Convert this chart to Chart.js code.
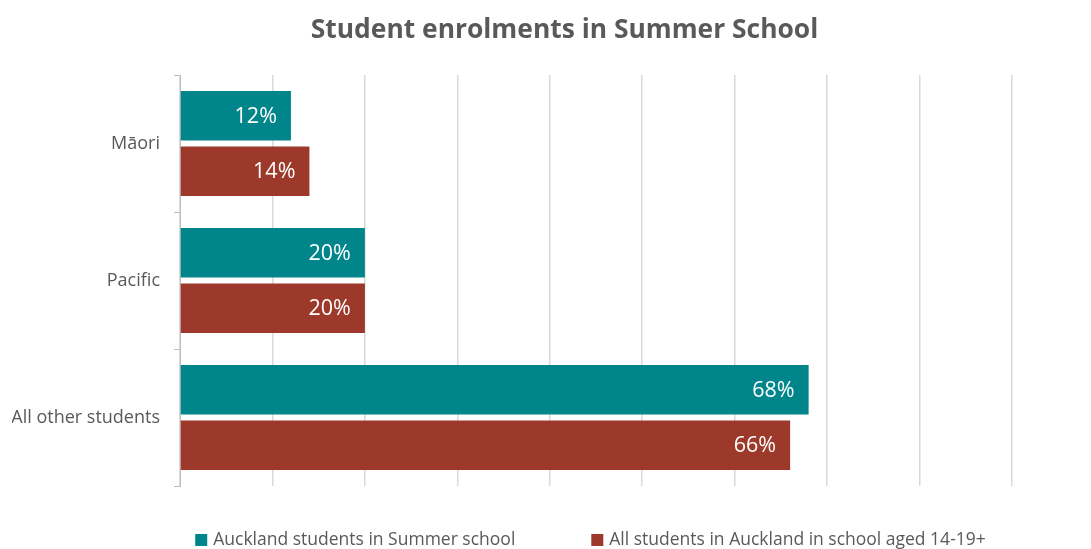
<!DOCTYPE html>
<html>
<head>
<meta charset="utf-8">
<script src="https://cdn.jsdelivr.net/npm/chart.js@4"></script>
<style>
  html, body { margin: 0; padding: 0; background: #fff; overflow: hidden; }
  #wrap { width: 1091px; height: 549px; }
</style>
</head>
<body>
<div id="wrap"><canvas id="enrol"></canvas></div>
<script>
const groups = ['Māori', 'Pacific', 'All other students'];
const summerSchool = [12, 20, 68];
const allStudents = [14, 20, 66];
const seriesNames = ['Auckland students in Summer school', 'All students in Auckland in school aged 14-19+'];
const chartTitle = 'Student enrolments in Summer School';

const grey = '#595959';
const font = "'Open Sans', sans-serif";

// write the percentage inside the end of each bar
const barLabels = {
    id: 'barLabels',
    afterDatasetsDraw(chart) {
        const ctx = chart.ctx;
        ctx.save();
        ctx.fillStyle = '#fff';
        ctx.font = '21.5px ' + font;
        ctx.textAlign = 'right';
        ctx.textBaseline = 'middle';
        chart.data.datasets.forEach((ds, i) => {
            chart.getDatasetMeta(i).data.forEach((bar, j) => {
                ctx.fillText(ds.data[j] + '%', bar.x - 14, bar.y + 1);
            });
        });
        ctx.restore();
    }
};

// title sits a little right of centre, legend row below the plot
const titleAndKey = {
    id: 'titleAndKey',
    afterDraw(chart) {
        const ctx = chart.ctx;
        const mid = chart.width / 2;
        ctx.save();
        ctx.fillStyle = grey;
        ctx.textBaseline = 'middle';
        ctx.textAlign = 'center';
        ctx.font = 'bold 26.4px ' + font;
        ctx.fillText(chartTitle, mid + 19, 30);

        ctx.font = '17.5px ' + font;
        ctx.textAlign = 'left';
        const box = 12, gapText = 6, gapItem = 76;
        const items = chart.data.datasets.map(ds => ({
            text: ds.label,
            color: ds.backgroundColor,
            w: box + gapText + ctx.measureText(ds.label).width
        }));
        const total = items.reduce((s, it) => s + it.w, 0) + gapItem * (items.length - 1);
        let x = mid + 45 - total / 2;
        const y = 540;
        items.forEach(it => {
            ctx.fillStyle = it.color;
            ctx.fillRect(x, y - box / 2, box, box);
            ctx.fillStyle = grey;
            ctx.fillText(it.text, x + box + gapText, y);
            x += it.w + gapItem;
        });
        ctx.restore();
    }
};

new Chart(document.getElementById('enrol'), {
    type: 'bar',
    data: {
        labels: groups,
        datasets: [{
            label: seriesNames[0],
            data: summerSchool,
            backgroundColor: '#00858a',
            categoryPercentage: 0.81,
            barPercentage: 0.89
        }, {
            label: seriesNames[1],
            data: allStudents,
            backgroundColor: '#9c392b',
            categoryPercentage: 0.81,
            barPercentage: 0.89
        }]
    },
    options: {
        indexAxis: 'y',
        responsive: true,
        maintainAspectRatio: false,
        animation: false,
        layout: { padding: { left: 12, right: 79, top: 75, bottom: 63 } },
        plugins: {
            title: { display: false },
            legend: { display: false },
            tooltip: { enabled: false }
        },
        scales: {
            x: {
                min: 0,
                max: 90,
                ticks: { display: false, stepSize: 10 },
                grid: { color: '#d9d9d9', lineWidth: 1.5, drawTicks: false },
                border: { display: false }
            },
            y: {
                afterFit(scale) { scale.width = 168; },
                ticks: { color: grey, font: { family: font, size: 18 }, padding: 14 },
                grid: { drawOnChartArea: false, tickLength: 6, color: '#bfbfbf' },
                border: { color: '#bfbfbf' }
            }
        }
    },
    plugins: [barLabels, titleAndKey]
});
</script>
</body>
</html>
